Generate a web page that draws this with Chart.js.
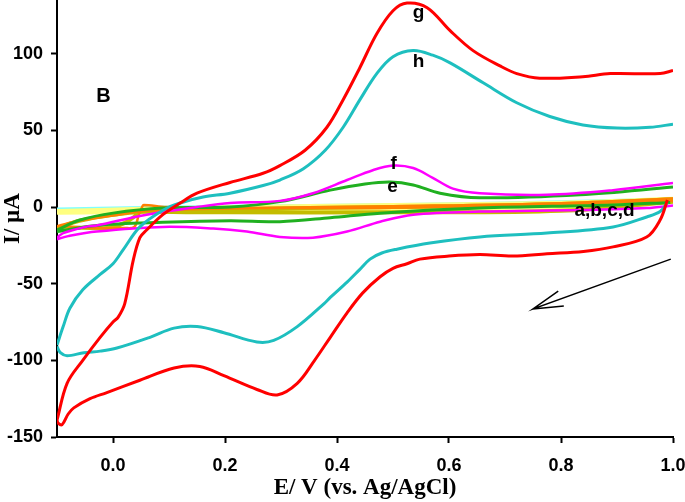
<!DOCTYPE html>
<html>
<head>
<meta charset="utf-8">
<script src="https://cdn.jsdelivr.net/npm/chart.js@4.4.1/dist/chart.umd.min.js"></script>
<style>
  body { margin: 0; background: #fff; }
  canvas { display: block; }
</style>
</head>
<body>
<canvas id="cv" width="685" height="502"></canvas>
<script>
// tick labels
const xTicks = [0.0, 0.2, 0.4, 0.6, 0.8, 1.0];
const yTicks = [-150, -100, -50, 0, 50, 100];

// g (red) - anodic branch, break, cathodic branch
const potG = [-0.100, -0.082, -0.054, -0.023, 0.000, 0.009, 0.021, 0.036, 0.048, 0.060, 0.089, 0.120, 0.150, 0.209, 0.268, 0.298, 0.343, 0.382, 0.411, 0.441, 0.471, 0.500, 0.525, 0.561, 0.602, 0.643, 0.691, 0.721, 0.762, 0.839, 0.888, 0.977, 1.000,
  null,
  0.990, 0.977, 0.953, 0.893, 0.840, 0.775, 0.714, 0.655, 0.600, 0.548, 0.525, 0.500, 0.477, 0.446, 0.418, 0.388, 0.360, 0.329, 0.293, 0.257, 0.198, 0.155, 0.109, 0.048, -0.011, -0.041, -0.070, -0.080, -0.091, -0.098, -0.100];
const curG = [-139, -115, -100, -85, -75, -72, -63, -35, -20, -15, -5, 2.6, 9, 16, 22, 27, 37, 52, 70, 91, 113, 128, 133, 130, 115, 102, 92, 87, 84, 85, 87, 87, 89,
  null,
  4.6, -8.5, -19.6, -26, -29, -30.5, -32, -31, -32, -34, -37, -40, -45.5, -56, -69, -85, -100, -115, -122.6, -119, -110, -104, -105, -113, -121, -125, -131, -135, -142, -141, -139];

// h (cyan)
const potH = [-0.100, -0.089, -0.077, -0.054, -0.023, 0.000, 0.018, 0.048, 0.090, 0.120, 0.161, 0.209, 0.268, 0.298, 0.340, 0.379, 0.411, 0.441, 0.471, 0.500, 0.536, 0.571, 0.602, 0.661, 0.721, 0.780, 0.839, 0.900, 0.959, 1.000,
  null,
  0.990, 0.977, 0.953, 0.893, 0.775, 0.655, 0.566, 0.507, 0.480, 0.459, 0.440, 0.418, 0.388, 0.377, 0.329, 0.287, 0.257, 0.198, 0.150, 0.109, 0.066, 0.007, -0.023, -0.052, -0.082, -0.094, -0.100];
const curH = [-90, -78, -66, -54, -44, -37, -28, -13, -2, 2.6, 6.5, 9, 14, 17.6, 25, 37, 52, 70, 87, 98, 102, 99, 94, 81, 68, 59, 53.5, 51.5, 52, 54,
  null,
  3, -3, -6.5, -13, -17, -19.5, -23.5, -27.5, -30, -34, -41, -49, -59, -63, -78, -87, -88, -82, -78, -79, -85, -92, -94, -95, -97, -95, -91];

// f (magenta)
const potF = [-0.100, -0.089, -0.050, -0.029, 0.060, 0.150, 0.209, 0.298, 0.357, 0.418, 0.464, 0.500, 0.536, 0.571, 0.607, 0.655, 0.775, 0.893, 1.000,
  null,
  1.000, 0.953, 0.834, 0.655, 0.536, 0.477, 0.418, 0.357, 0.298, 0.239, 0.179, 0.089, -0.029, -0.080, -0.100];
const curF = [-20, -17, -13, -12, -5, 0, 2.6, 4, 9, 17.6, 24, 27, 25.4, 19, 12, 9, 8, 11, 15.6,
  null,
  1, -0.7, -2, -3, -5, -9.6, -16, -20, -19.5, -16, -14, -13, -16, -19, -21];

// e (green)
const potE = [-0.100, -0.059, 0.000, 0.089, 0.209, 0.298, 0.388, 0.450, 0.495, 0.536, 0.584, 0.655, 0.834, 1.000,
  null,
  0.995, 0.893, 0.655, 0.477, 0.388, 0.298, 0.209, 0.089, -0.029, -0.100];
const curE = [-15, -8.5, -4, -0.7, 0, 3.5, 11, 15, 16.3, 14.4, 9, 6, 8, 13,
  null,
  3, 1.3, -0.7, -4, -7, -9.6, -9, -10, -12, -16];

// a (light cyan)
const potA = [-0.100, 0.100, 0.400, 0.700, 1.000, null, 1.000, 0.600, 0.200, -0.100];
const curA = [-1, 0.3, 1.5, 3, 5.5, null, 4.5, 0.5, -0.5, -1.5];

// b (light yellow)
const potB = [-0.100, 0.050, 0.200, 0.500, 0.800, 1.000, null, 1.000, 0.800, 0.500, 0.200, 0.000, -0.100];
const curB = [-3, -1.5, -0.5, 1, 2.5, 5, null, 4, -1, -2, -2.5, -3, -3.5];

// c (olive)
const potC = [-0.100, -0.060, 0.000, 0.060, 0.200, 0.500, 0.800, 1.000, null, 1.000, 0.800, 0.500, 0.200, 0.060, 0.048, 0.043, 0.020, -0.011, -0.060, -0.100];
const curC = [-14, -9, -5, -3, -1.5, 0, 2, 5, null, 3.5, -2.5, -3.5, -3.5, -3, -2.5, -5, -10.5, -13.7, -13.5, -14.5];

// d (orange)
const potD = [-0.100, -0.060, 0.000, 0.060, 0.200, 0.500, 0.800, 1.000, null, 1.000, 0.500, 0.096, 0.055, 0.052, 0.046, 0.038, 0.020, -0.030, -0.064, -0.100];
const curD = [-12.5, -9, -5.5, -2.5, -1, 0.5, 2.5, 5.5, null, 4, -0.5, 0, 1.3, 0, -5.2, -13, -13.7, -13.7, -13, -12.5];

// scan direction arrow (tail, tip, barb, tip, barb)
const arrowV = [0.996, 0.750, 0.795, 0.750, 0.805];
const arrowI = [-34, -66.5, -54.8, -66.5, -64.6];

// curve labels
const labelText = ['g', 'h', 'f', 'e', 'a,b,c,d', 'B'];
const labelV = [0.5455, 0.5455, 0.501, 0.499, 0.8777, -0.017];
const labelI = [123.3, 91.3, 24.8, 9.8, -5.9, 68.5];

function pts(p, c) {
  return p.map((v, i) => ({ x: v, y: c[i] }));
}

function curve(p, c, color, w) {
  return {
    data: pts(p, c),
    borderColor: color,
    borderWidth: w,
    pointRadius: 0,
    showLine: true,
    tension: 0.35,
    spanGaps: false,
    fill: false
  };
}

const labelPlugin = {
  id: 'labels',
  afterDatasetsDraw(chart) {
    const ctx = chart.ctx;
    const xs = chart.scales.x, ys = chart.scales.y;
    ctx.save();
    ctx.fillStyle = '#000';
    ctx.textAlign = 'center';
    ctx.textBaseline = 'alphabetic';
    labelText.forEach((t, i) => {
      ctx.font = (t === 'B' ? 'bold 20px' : 'bold 19px') + ' "Liberation Sans", Arial, sans-serif';
      ctx.fillText(t, xs.getPixelForValue(labelV[i]), ys.getPixelForValue(labelI[i]));
    });
    ctx.restore();
  }
};

const tickFont = { family: '"Liberation Sans", Arial, sans-serif', size: 18, weight: 'bold' };
const titleFont = { family: '"Liberation Serif", "Times New Roman", serif', size: 23, weight: 'bold', lineHeight: 1.1 };

new Chart(document.getElementById('cv'), {
  type: 'scatter',
  data: {
    datasets: [
      curve(potG, curG, '#FF0000', 3),
      curve(potH, curH, '#1EBFBF', 3),
      curve(potF, curF, '#FF00FF', 2.5),
      curve(potE, curE, '#20B020', 3),
      curve(potD, curD, '#FF8000', 2.5),
      curve(potC, curC, '#C4BC00', 4),
      curve(potB, curB, '#FFFF80', 5),
      curve(potA, curA, '#80FFFF', 2),
      {
        data: pts(arrowV, arrowI),
        borderColor: '#000',
        borderWidth: 1.5,
        pointRadius: 0,
        showLine: true,
        tension: 0
      }
    ]
  },
  options: {
    responsive: false,
    animation: false,
    devicePixelRatio: 1,
    layout: { padding: { top: 0, right: 12, bottom: 0, left: 0 } },
    plugins: { legend: { display: false }, tooltip: { enabled: false } },
    scales: {
      x: {
        type: 'linear',
        min: -0.1,
        max: 1.0,
        afterBuildTicks: s => { s.ticks = xTicks.map(v => ({ value: v })); },
        afterFit: s => { s.height = 65; s.paddingLeft = 0; s.paddingRight = 0; },
        ticks: { callback: v => v.toFixed(1), font: tickFont, color: '#000', padding: 12, maxRotation: 0, autoSkip: false },
        grid: { drawOnChartArea: false, drawTicks: true, tickLength: 6, tickColor: '#000', tickWidth: 2 },
        border: { display: true, color: '#000', width: 2 },
        title: { display: true, text: 'E/ V (vs. Ag/AgCl)', font: titleFont, color: '#000', padding: { top: 0, bottom: 1 } }
      },
      y: {
        type: 'linear',
        min: -150,
        max: 135,
        afterBuildTicks: s => { s.ticks = yTicks.map(v => ({ value: v })); },
        afterFit: s => { s.width = 57; s.paddingTop = 0; s.paddingBottom = 0; },
        ticks: { font: tickFont, color: '#000', padding: 8 },
        grid: { drawOnChartArea: false, drawTicks: true, tickLength: 6, tickColor: '#000', tickWidth: 2 },
        border: { display: true, color: '#000', width: 2 },
        title: { display: true, text: 'I/ µA', font: titleFont, color: '#000', padding: { top: 0, bottom: 0 } }
      }
    }
  },
  plugins: [labelPlugin]
});
</script>
</body>
</html>
